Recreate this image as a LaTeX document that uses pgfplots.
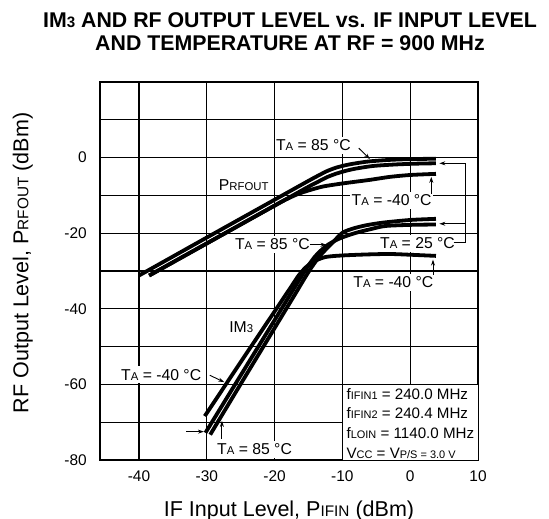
\documentclass[border=0pt]{standalone}
\usepackage{fontspec}
\setmainfont{Liberation Sans}
\usepackage{pgfplots}
\pgfplotsset{compat=1.18}
\usetikzlibrary{arrows.meta}

% text sizes
\newcommand\annfont{\fontsize{15.8}{18}\selectfont}
\newcommand\annsub[1]{{\fontsize{11.4}{12}\selectfont #1}}
\newcommand\infofont{\fontsize{15.2}{18}\selectfont}
\newcommand\infosub[1]{{\fontsize{11}{12}\selectfont #1}}
\newcommand\labfont{\fontsize{21.6}{24}\selectfont}
\newcommand\labsub[1]{{\fontsize{15.4}{15}\selectfont #1}}
\newcommand\TA{T\annsub{A}}

\begin{document}
\begin{tikzpicture}[
  lbl/.style={fill=white, inner xsep=1.5bp, inner ysep=3bp, font=\annfont, anchor=base west},
  info/.style={inner sep=0pt, font=\infofont, anchor=base west},
  pt/.style={line width=0.9bp, -{Stealth[length=6bp, width=4bp]}},
  curve/.style={black, line width=3.8bp, smooth, tension=0.45},
]
\begin{axis}[
  at={(0,0)}, anchor=south west,
  scale only axis, width=378bp, height=378bp,
  xmin=-45.75, xmax=10, ymin=-80, ymax=20,
  xtick={-40,-30,...,10}, xticklabels={-40,-30,-20,-10,0,10},
  ytick={-80,-60,...,0}, yticklabels={-80,-60,-40,-20,0},
  minor ytick={-70,-50,...,10},
  grid=both,
  major grid style={black, line width=1.3bp},
  minor grid style={black, line width=1.3bp},
  major tick length=0pt, minor tick length=0pt,
  axis line style={black, line width=1.5bp},
  xticklabel style={font=\fontsize{15.5}{16}\selectfont, anchor=north, inner sep=0pt, yshift=-11bp},
  yticklabel style={font=\fontsize{15.5}{16}\selectfont, anchor=east, inner sep=0pt, xshift=-13bp},
  set layers,
]
% PRFOUT
\addplot[curve] coordinates {(-40,-31.2) (-30,-21.15) (-20,-11.15) (-15,-6.15) (-13.5,-4.7) (-12.3,-3.6) (-11,-2.7) (-9.5,-2.0) (-8,-1.5) (-6,-1.0) (-3,-0.6) (0,-0.4) (3.8,-0.3)};
\addplot[curve] coordinates {(-38.5,-31.2) (-30,-22.7) (-20,-12.7) (-15,-7.7) (-13.6,-6.4) (-12.3,-5.2) (-11,-4.3) (-9.5,-3.5) (-8,-2.9) (-5.4,-2.2) (-2,-1.8) (1,-1.6) (3.8,-1.5)};
\addplot[curve] coordinates {(-38.5,-31.2) (-30,-22.7) (-20,-12.7) (-18,-10.8) (-16.5,-9.6) (-15,-8.7) (-13,-7.7) (-11,-7.1) (-9,-6.6) (-6,-5.9) (-3,-5.1) (0,-4.6) (3.8,-4.3)};
% IM3
\addplot[curve] coordinates {(-29.5,-73.3) (-25,-59.9) (-20,-45.1) (-17,-36.2) (-15.5,-31.7) (-14.5,-28.9) (-13.5,-26.4) (-12.5,-24.4) (-11.3,-22.2) (-10,-19.9) (-8.5,-18.8) (-6.5,-17.9) (-4,-17.2) (0,-16.5) (3.8,-16.2)};
\addplot[curve] coordinates {(-30.2,-72.8) (-25,-57.6) (-20,-43.0) (-17,-34.2) (-16,-31.3) (-15,-28.5) (-14,-26.1) (-13,-24.3) (-12,-22.9) (-11,-21.9) (-10,-21.1) (-8,-19.9) (-6,-19.0) (-3.7,-18.1) (0,-17.8) (3.8,-17.7)};
\addplot[curve] coordinates {(-30.3,-68.4) (-25,-54.1) (-20,-40.7) (-17.5,-34.0) (-16.5,-31.3) (-15.5,-29.2) (-14.5,-27.8) (-13.5,-26.9) (-12.5,-26.3) (-11,-26.0) (-9,-25.8) (-6,-25.6) (-3,-25.5) (0,-25.7) (3.8,-26.0)};

% conditions box
\fill[white] (axis cs:-10,-80) rectangle (axis cs:10,-60);
\draw[black, line width=1.3bp] (axis cs:-10,-80) -- (axis cs:-10,-60) -- (axis cs:10,-60);
\node[info] at (axis cs:-9.41,-64.05) {f\infosub{IFIN1} = 240.0 MHz};
\node[info] at (axis cs:-9.41,-69.03) {f\infosub{IFIN2} = 240.4 MHz};
\node[info] at (axis cs:-9.41,-74.24) {f\infosub{LOIN} = 1140.0 MHz};
\node[info] at (axis cs:-9.41,-79.51) {V\infosub{CC} = V\infosub{P/S = 3.0 V}};

% annotations
\node[lbl] at (axis cs:-20.03,1.85) {\TA{} = 85 °C};
\draw[pt] (axis cs:-7.58,2.49) -- (axis cs:-5.94,-0.42);
\node[lbl] at (axis cs:-28.46,-8.73) {P\annsub{RFOUT}};
\node[lbl] at (axis cs:-8.88,-12.78) {\TA{} = -40 °C};
\draw[pt] (axis cs:3.11,-9.6) -- (axis cs:3.11,-5.1);
\node[lbl] at (axis cs:-4.68,-24.12) {\TA{} = 25 °C};
\draw[line width=0.9bp] (axis cs:6.41,-22.33) -| (axis cs:8.13,-1.51);
\draw[pt] (axis cs:8.13,-1.51) -- (axis cs:4.3,-1.51);
\draw[pt] (axis cs:8.13,-17.5) -- (axis cs:4.3,-17.5);
\node[lbl] at (axis cs:-8.63,-34.43) {\TA{} = -40 °C};
\draw[pt] (axis cs:3.36,-31.0) -- (axis cs:3.36,-27.0);
\node[lbl] at (axis cs:-26.08,-24.39) {\TA{} = 85 °C};
\draw[pt] (axis cs:-14.79,-23.05) -- (axis cs:-12.34,-23.05);
\node[lbl] at (axis cs:-26.93,-46.38) {IM\annsub{3}};
\node[lbl] at (axis cs:-42.87,-58.88) {\TA{} = -40 °C};
\draw[pt] (axis cs:-29.57,-57.57) -- (axis cs:-27.43,-59.4);
\node[lbl] at (axis cs:-28.71,-78.56) {\TA{} = 85 °C};
\draw[pt] (axis cs:-27.77,-74.5) -- (axis cs:-27.77,-69.65);
\draw[pt] (axis cs:-33.05,-72.5) -- (axis cs:-30.42,-72.5);
\end{axis}

% titles and axis labels
\node[anchor=base, font=\bfseries\fontsize{21.4}{24}\selectfont] at (190bp,432bp)
  {IM{\fontsize{15.2}{15}\selectfont 3} AND RF OUTPUT LEVEL vs. IF INPUT LEVEL};
\node[anchor=base, font=\bfseries\fontsize{21.4}{24}\selectfont] at (190bp,409.2bp)
  {AND TEMPERATURE AT RF = 900 MHz};
\node[anchor=base, font=\labfont] at (189bp,-56bp) {IF Input Level, P\labsub{IFIN} (dBm)};
\node[anchor=base, font=\labfont, rotate=90] at (-71.5bp,197bp) {RF Output Level, P\labsub{RFOUT} (dBm)};

% page frame
\pgfresetboundingbox
\useasboundingbox (-100bp,-59bp) rectangle (449bp,460bp);
\end{tikzpicture}
\end{document}
